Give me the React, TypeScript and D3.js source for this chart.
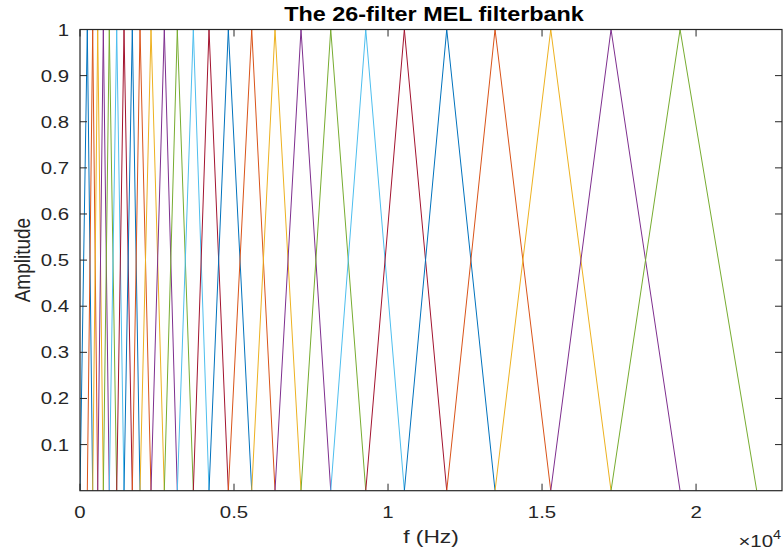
import React from "react";
import * as d3 from "d3";

// Filter edge/centre frequencies (Hz): filter k spans points[k-1]..points[k+1], peak at points[k]
const points = [0, 237, 412, 575, 757, 951, 1192, 1429, 1698, 1948, 2305, 2737, 3159, 3679, 4188, 4815, 5575, 6331, 7175, 8140, 9277, 10530, 11906, 13474, 15283, 17240, 19481, 21970];
const colors = ["#0072BD", "#D95319", "#EDB120", "#7E2F8E", "#77AC30", "#4DBEEE", "#A2142F"];
const xTicks = [0, 5000, 10000, 15000, 20000];
const xTickLabels = ["0", "0.5", "1", "1.5", "2"];
const yTicks = [0.1, 0.2, 0.3, 0.4, 0.5, 0.6, 0.7, 0.8, 0.9, 1];
const yTickLabels = ["0.1", "0.2", "0.3", "0.4", "0.5", "0.6", "0.7", "0.8", "0.9", "1"];
const title = "The 26-filter MEL filterbank";
const xLabel = "f (Hz)";
const yLabel = "Amplitude";

const W = 783, H = 553;
const L = 80, R = 782, T = 29.5, B = 490.7;
const FONT = "'Liberation Sans', Arial, Helvetica, sans-serif";
const AX = "#262626";
const SX = 1.2; // horizontal stretch of the reference image

function T2({ x, y, anchor, size, weight, children, fill }: any) {
  return (
    <g transform={`translate(${x},${y}) scale(${SX},1)`}>
      <text textAnchor={anchor} fontSize={size} fontWeight={weight || "normal"} fontFamily={FONT} fill={fill || AX}>
        {children}
      </text>
    </g>
  );
}

export default function App() {
  const x = d3.scaleLinear().domain([0, 22790]).range([L, R]);
  const y = d3.scaleLinear().domain([0, 1]).range([B, T]);
  const line = d3.line<[number, number]>().x((d) => x(d[0])).y((d) => y(d[1]));
  const filters: [number, number][][] = [];
  for (let k = 1; k < points.length - 1; k++) {
    filters.push([[points[k - 1], 0], [points[k], 1], [points[k + 1], 0]]);
  }
  const tl = 7;
  return (
    <div style={{ position: "fixed", left: 0, top: 0 }}>
      <svg width={W} height={H} style={{ display: "block", background: "#fff" }}>
        <rect x={L} y={T} width={R - L} height={B - T} fill="#fff" />
        <defs>
          <clipPath id="plot">
            <rect x={L} y={T} width={R - L} height={B - T} />
          </clipPath>
        </defs>
        <g clipPath="url(#plot)">
          {filters.map((f, i) => (
            <path key={i} d={line(f) || ""} fill="none" stroke={colors[i % colors.length]} strokeWidth={1} />
          ))}
        </g>
        {xTicks.map((t, i) => (
          <g key={"xt" + i}>
            <line x1={x(t)} x2={x(t)} y1={B} y2={B - tl} stroke={AX} strokeWidth={1} />
            <line x1={x(t)} x2={x(t)} y1={T} y2={T + tl} stroke={AX} strokeWidth={1} />
            <T2 x={x(t)} y={B + 27} anchor="middle" size={17}>{xTickLabels[i]}</T2>
          </g>
        ))}
        {yTicks.map((t, i) => (
          <g key={"yt" + i}>
            <line x1={L} x2={L + tl} y1={y(t)} y2={y(t)} stroke={AX} strokeWidth={1} />
            <line x1={R} x2={R - tl} y1={y(t)} y2={y(t)} stroke={AX} strokeWidth={1} />
            <T2 x={L - 11} y={y(t) + 6} anchor="end" size={17}>{yTickLabels[i]}</T2>
          </g>
        ))}
        <rect x={L} y={T} width={R - L} height={B - T} fill="none" stroke={AX} strokeWidth={1.2} />
        <T2 x={(L + R) / 2 + 3} y={21} anchor="middle" size={19.5} weight="bold" fill="#000">{title}</T2>
        <T2 x={(L + R) / 2} y={543} anchor="middle" size={19}>{xLabel}</T2>
        <g transform={`translate(30,${(T + B) / 2}) scale(${SX},1) rotate(-90)`}>
          <text textAnchor="middle" fontSize={19} fontFamily={FONT} fill={AX}>{yLabel}</text>
        </g>
        <g transform={`translate(781,547) scale(${SX},1)`}>
          <text textAnchor="end" fontSize={17} fontFamily={FONT} fill={AX}>
            ×10<tspan dy={-8} fontSize={12}>4</tspan>
          </text>
        </g>
      </svg>
    </div>
  );
}
